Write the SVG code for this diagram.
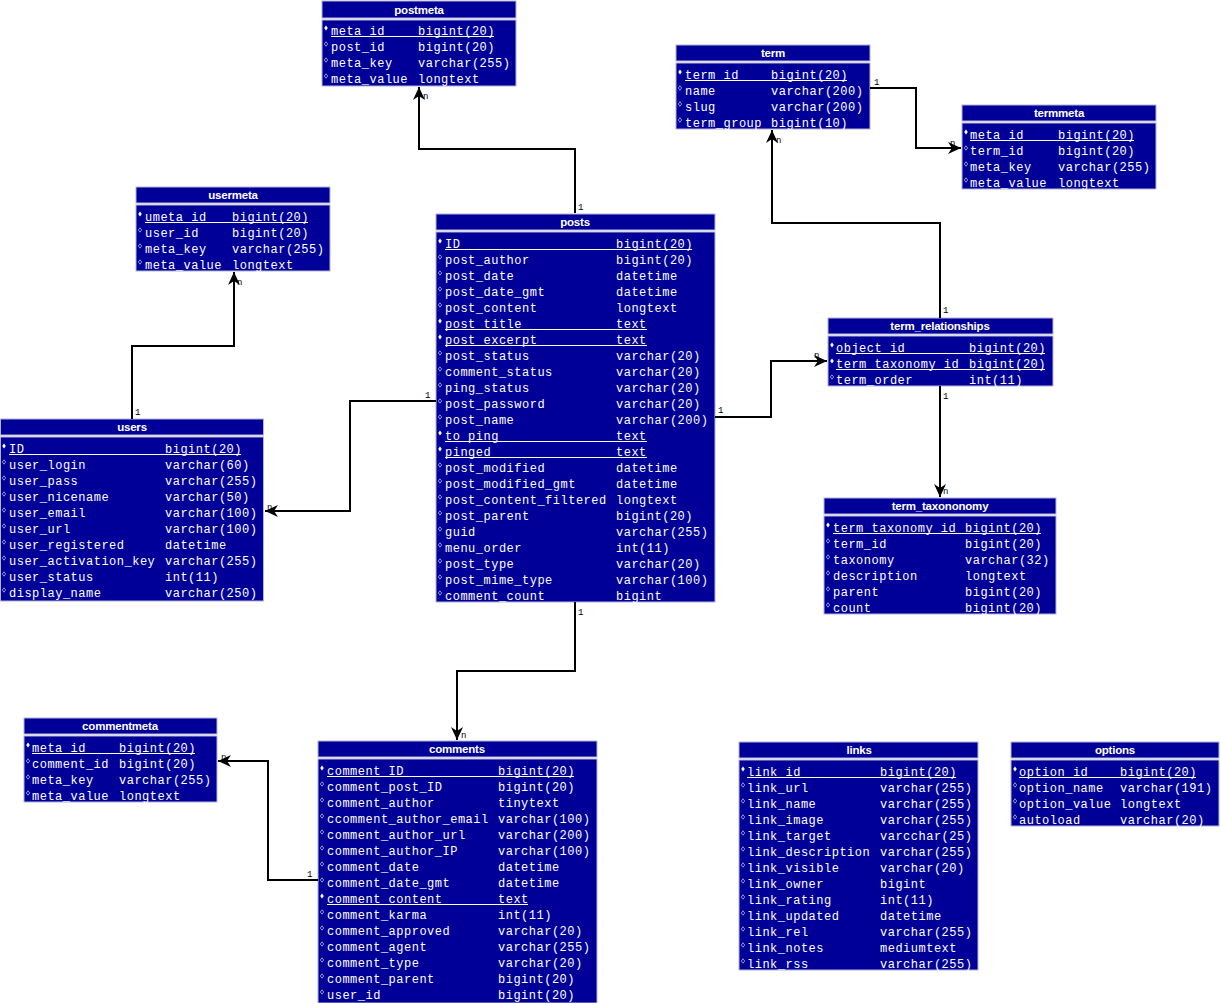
<svg xmlns="http://www.w3.org/2000/svg" xmlns:xlink="http://www.w3.org/1999/xlink" width="1221" height="1003" viewBox="0 0 1221 1003">
<style>
  .box { fill: #000099; stroke: #b4b4d8; stroke-width: 1; }
  .title { font-family: "Liberation Sans", Arial, sans-serif; font-weight: bold; font-size: 11.5px; fill: #ffffff; text-anchor: middle; letter-spacing: -0.2px; }
  .f { font-family: "Liberation Mono", "Courier New", monospace; font-size: 12px; letter-spacing: 0.5px; fill: #ffffff; }
  .ul { stroke: #ffffff; stroke-width: 1; }
  .wire { fill: none; stroke: #000000; stroke-width: 2; marker-end: url(#arr); }
  .card { font-family: "Liberation Mono", "Courier New", monospace; font-size: 9px; fill: #000000; }
</style>
<defs>
  <marker id="arr" markerUnits="userSpaceOnUse" markerWidth="14" markerHeight="12" refX="13" refY="6" orient="auto">
    <path d="M0,0 L13,6 L0,12 L4,6 z" fill="#000000"/>
  </marker>
  <path id="pk" d="M0,-2.5 L1.8,0 L0,2.5 L-1.8,0 z" fill="#ffffff"/>
  <path id="fk" d="M0,-2.2 L1.7,0 L0,2.2 L-1.7,0 z" fill="none" stroke="#d0d0e8" stroke-width="0.7"/>
</defs>
<rect x="0" y="0" width="1221" height="1003" fill="#ffffff"/>

<!-- postmeta -->
<g id="postmeta">
  <rect class="box" x="322" y="1" width="194" height="17"/>
  <rect class="box" x="322" y="20" width="194" height="66"/>
  <text class="title" x="419" y="14">postmeta</text>
  <use href="#pk" x="326" y="28"/><text class="f" x="331" y="35">meta_id</text><text class="f" x="418" y="35">bigint(20)</text><line class="ul" x1="331" y1="36.5" x2="494" y2="36.5"/>
  <use href="#fk" x="326" y="44"/><text class="f" x="331" y="51">post_id</text><text class="f" x="418" y="51">bigint(20)</text>
  <use href="#fk" x="326" y="60"/><text class="f" x="331" y="67">meta_key</text><text class="f" x="418" y="67">varchar(255)</text>
  <use href="#fk" x="326" y="76"/><text class="f" x="331" y="83">meta_value</text><text class="f" x="418" y="83">longtext</text>
</g>

<!-- term -->
<g id="term">
  <rect class="box" x="676" y="45" width="194" height="16"/>
  <rect class="box" x="676" y="63" width="194" height="66"/>
  <text class="title" x="773" y="57">term</text>
  <use href="#pk" x="680" y="72"/><text class="f" x="685" y="79">term_id</text><text class="f" x="771" y="79">bigint(20)</text><line class="ul" x1="685" y1="80.5" x2="847" y2="80.5"/>
  <use href="#fk" x="680" y="88"/><text class="f" x="685" y="95">name</text><text class="f" x="771" y="95">varchar(200)</text>
  <use href="#fk" x="680" y="104"/><text class="f" x="685" y="111">slug</text><text class="f" x="771" y="111">varchar(200)</text>
  <use href="#fk" x="680" y="120"/><text class="f" x="685" y="127">term_group</text><text class="f" x="771" y="127">bigint(10)</text>
</g>

<!-- termmeta -->
<g id="termmeta">
  <rect class="box" x="962" y="105" width="194" height="16"/>
  <rect class="box" x="962" y="123" width="194" height="66"/>
  <text class="title" x="1059" y="117">termmeta</text>
  <use href="#pk" x="966" y="132"/><text class="f" x="970" y="139">meta_id</text><text class="f" x="1058" y="139">bigint(20)</text><line class="ul" x1="970" y1="140.5" x2="1134" y2="140.5"/>
  <use href="#fk" x="966" y="148"/><text class="f" x="970" y="155">term_id</text><text class="f" x="1058" y="155">bigint(20)</text>
  <use href="#fk" x="966" y="164"/><text class="f" x="970" y="171">meta_key</text><text class="f" x="1058" y="171">varchar(255)</text>
  <use href="#fk" x="966" y="180"/><text class="f" x="970" y="187">meta_value</text><text class="f" x="1058" y="187">longtext</text>
</g>

<!-- usermeta -->
<g id="usermeta">
  <rect class="box" x="136" y="187" width="194" height="16"/>
  <rect class="box" x="136" y="205" width="194" height="66"/>
  <text class="title" x="233" y="199">usermeta</text>
  <use href="#pk" x="140" y="214"/><text class="f" x="145" y="221">umeta_id</text><text class="f" x="232" y="221">bigint(20)</text><line class="ul" x1="145" y1="222.5" x2="308" y2="222.5"/>
  <use href="#fk" x="140" y="230"/><text class="f" x="145" y="237">user_id</text><text class="f" x="232" y="237">bigint(20)</text>
  <use href="#fk" x="140" y="246"/><text class="f" x="145" y="253">meta_key</text><text class="f" x="232" y="253">varchar(255)</text>
  <use href="#fk" x="140" y="262"/><text class="f" x="145" y="269">meta_value</text><text class="f" x="232" y="269">longtext</text>
</g>

<!-- posts -->
<g id="posts">
  <rect class="box" x="436" y="214" width="279" height="16"/>
  <rect class="box" x="436" y="232" width="279" height="370"/>
  <text class="title" x="575" y="226">posts</text>
  <use href="#pk" x="440" y="241"/><text class="f" x="445" y="248">ID</text><text class="f" x="616" y="248">bigint(20)</text><line class="ul" x1="445" y1="249.5" x2="692" y2="249.5"/>
  <use href="#fk" x="440" y="257"/><text class="f" x="445" y="264">post_author</text><text class="f" x="616" y="264">bigint(20)</text>
  <use href="#fk" x="440" y="273"/><text class="f" x="445" y="280">post_date</text><text class="f" x="616" y="280">datetime</text>
  <use href="#fk" x="440" y="289"/><text class="f" x="445" y="296">post_date_gmt</text><text class="f" x="616" y="296">datetime</text>
  <use href="#fk" x="440" y="305"/><text class="f" x="445" y="312">post_content</text><text class="f" x="616" y="312">longtext</text>
  <use href="#pk" x="440" y="321"/><text class="f" x="445" y="328">post_title</text><text class="f" x="616" y="328">text</text><line class="ul" x1="445" y1="329.5" x2="647" y2="329.5"/>
  <use href="#pk" x="440" y="337"/><text class="f" x="445" y="344">post_excerpt</text><text class="f" x="616" y="344">text</text><line class="ul" x1="445" y1="345.5" x2="647" y2="345.5"/>
  <use href="#fk" x="440" y="353"/><text class="f" x="445" y="360">post_status</text><text class="f" x="616" y="360">varchar(20)</text>
  <use href="#fk" x="440" y="369"/><text class="f" x="445" y="376">comment_status</text><text class="f" x="616" y="376">varchar(20)</text>
  <use href="#fk" x="440" y="385"/><text class="f" x="445" y="392">ping_status</text><text class="f" x="616" y="392">varchar(20)</text>
  <use href="#fk" x="440" y="401"/><text class="f" x="445" y="408">post_password</text><text class="f" x="616" y="408">varchar(20)</text>
  <use href="#fk" x="440" y="417"/><text class="f" x="445" y="424">post_name</text><text class="f" x="616" y="424">varchar(200)</text>
  <use href="#pk" x="440" y="433"/><text class="f" x="445" y="440">to_ping</text><text class="f" x="616" y="440">text</text><line class="ul" x1="445" y1="441.5" x2="647" y2="441.5"/>
  <use href="#pk" x="440" y="449"/><text class="f" x="445" y="456">pinged</text><text class="f" x="616" y="456">text</text><line class="ul" x1="445" y1="457.5" x2="647" y2="457.5"/>
  <use href="#fk" x="440" y="465"/><text class="f" x="445" y="472">post_modified</text><text class="f" x="616" y="472">datetime</text>
  <use href="#fk" x="440" y="481"/><text class="f" x="445" y="488">post_modified_gmt</text><text class="f" x="616" y="488">datetime</text>
  <use href="#fk" x="440" y="497"/><text class="f" x="445" y="504">post_content_filtered</text><text class="f" x="616" y="504">longtext</text>
  <use href="#fk" x="440" y="513"/><text class="f" x="445" y="520">post_parent</text><text class="f" x="616" y="520">bigint(20)</text>
  <use href="#fk" x="440" y="529"/><text class="f" x="445" y="536">guid</text><text class="f" x="616" y="536">varchar(255)</text>
  <use href="#fk" x="440" y="545"/><text class="f" x="445" y="552">menu_order</text><text class="f" x="616" y="552">int(11)</text>
  <use href="#fk" x="440" y="561"/><text class="f" x="445" y="568">post_type</text><text class="f" x="616" y="568">varchar(20)</text>
  <use href="#fk" x="440" y="577"/><text class="f" x="445" y="584">post_mime_type</text><text class="f" x="616" y="584">varchar(100)</text>
  <use href="#fk" x="440" y="593"/><text class="f" x="445" y="600">comment_count</text><text class="f" x="616" y="600">bigint</text>
</g>

<!-- term_relationships -->
<g id="term_relationships">
  <rect class="box" x="828" y="318" width="225" height="16"/>
  <rect class="box" x="828" y="336" width="225" height="50"/>
  <text class="title" x="940" y="330">term_relationships</text>
  <use href="#pk" x="832" y="345"/><text class="f" x="836" y="352">object_id</text><text class="f" x="969" y="352">bigint(20)</text><line class="ul" x1="836" y1="353.5" x2="1045" y2="353.5"/>
  <use href="#pk" x="832" y="361"/><text class="f" x="836" y="368">term_taxonomy_id</text><text class="f" x="969" y="368">bigint(20)</text><line class="ul" x1="836" y1="369.5" x2="1045" y2="369.5"/>
  <use href="#fk" x="832" y="377"/><text class="f" x="836" y="384">term_order</text><text class="f" x="969" y="384">int(11)</text>
</g>

<!-- users -->
<g id="users">
  <rect class="box" x="0.5" y="419" width="263" height="16"/>
  <rect class="box" x="0.5" y="437" width="263" height="164"/>
  <text class="title" x="132" y="431">users</text>
  <use href="#pk" x="4" y="446"/><text class="f" x="9" y="453">ID</text><text class="f" x="165" y="453">bigint(20)</text><line class="ul" x1="9" y1="454.5" x2="241" y2="454.5"/>
  <use href="#fk" x="4" y="462"/><text class="f" x="9" y="469">user_login</text><text class="f" x="165" y="469">varchar(60)</text>
  <use href="#fk" x="4" y="478"/><text class="f" x="9" y="485">user_pass</text><text class="f" x="165" y="485">varchar(255)</text>
  <use href="#fk" x="4" y="494"/><text class="f" x="9" y="501">user_nicename</text><text class="f" x="165" y="501">varchar(50)</text>
  <use href="#fk" x="4" y="510"/><text class="f" x="9" y="517">user_email</text><text class="f" x="165" y="517">varchar(100)</text>
  <use href="#fk" x="4" y="526"/><text class="f" x="9" y="533">user_url</text><text class="f" x="165" y="533">varchar(100)</text>
  <use href="#fk" x="4" y="542"/><text class="f" x="9" y="549">user_registered</text><text class="f" x="165" y="549">datetime</text>
  <use href="#fk" x="4" y="558"/><text class="f" x="9" y="565">user_activation_key</text><text class="f" x="165" y="565">varchar(255)</text>
  <use href="#fk" x="4" y="574"/><text class="f" x="9" y="581">user_status</text><text class="f" x="165" y="581">int(11)</text>
  <use href="#fk" x="4" y="590"/><text class="f" x="9" y="597">display_name</text><text class="f" x="165" y="597">varchar(250)</text>
</g>

<!-- term_taxononomy -->
<g id="term_taxononomy">
  <rect class="box" x="824" y="498" width="232" height="16"/>
  <rect class="box" x="824" y="516" width="232" height="98"/>
  <text class="title" x="940" y="510">term_taxononomy</text>
  <use href="#pk" x="828" y="525"/><text class="f" x="833" y="532">term_taxonomy_id</text><text class="f" x="965" y="532">bigint(20)</text><line class="ul" x1="833" y1="533.5" x2="1041" y2="533.5"/>
  <use href="#fk" x="828" y="541"/><text class="f" x="833" y="548">term_id</text><text class="f" x="965" y="548">bigint(20)</text>
  <use href="#fk" x="828" y="557"/><text class="f" x="833" y="564">taxonomy</text><text class="f" x="965" y="564">varchar(32)</text>
  <use href="#fk" x="828" y="573"/><text class="f" x="833" y="580">description</text><text class="f" x="965" y="580">longtext</text>
  <use href="#fk" x="828" y="589"/><text class="f" x="833" y="596">parent</text><text class="f" x="965" y="596">bigint(20)</text>
  <use href="#fk" x="828" y="605"/><text class="f" x="833" y="612">count</text><text class="f" x="965" y="612">bigint(20)</text>
</g>

<!-- commentmeta -->
<g id="commentmeta">
  <rect class="box" x="24" y="718" width="193" height="16"/>
  <rect class="box" x="24" y="736" width="193" height="66"/>
  <text class="title" x="120" y="730">commentmeta</text>
  <use href="#pk" x="28" y="745"/><text class="f" x="32" y="752">meta_id</text><text class="f" x="119" y="752">bigint(20)</text><line class="ul" x1="32" y1="753.5" x2="195" y2="753.5"/>
  <use href="#fk" x="28" y="761"/><text class="f" x="32" y="768">comment_id</text><text class="f" x="119" y="768">bigint(20)</text>
  <use href="#fk" x="28" y="777"/><text class="f" x="32" y="784">meta_key</text><text class="f" x="119" y="784">varchar(255)</text>
  <use href="#fk" x="28" y="793"/><text class="f" x="32" y="800">meta_value</text><text class="f" x="119" y="800">longtext</text>
</g>

<!-- comments -->
<g id="comments">
  <rect class="box" x="318" y="741" width="279" height="16"/>
  <rect class="box" x="318" y="759" width="279" height="244"/>
  <text class="title" x="457" y="753">comments</text>
  <use href="#pk" x="322" y="768"/><text class="f" x="327" y="775">comment_ID</text><text class="f" x="498" y="775">bigint(20)</text><line class="ul" x1="327" y1="776.5" x2="574" y2="776.5"/>
  <use href="#fk" x="322" y="784"/><text class="f" x="327" y="791">comment_post_ID</text><text class="f" x="498" y="791">bigint(20)</text>
  <use href="#fk" x="322" y="800"/><text class="f" x="327" y="807">comment_author</text><text class="f" x="498" y="807">tinytext</text>
  <use href="#fk" x="322" y="816"/><text class="f" x="327" y="823">ccomment_author_email</text><text class="f" x="498" y="823">varchar(100)</text>
  <use href="#fk" x="322" y="832"/><text class="f" x="327" y="839">comment_author_url</text><text class="f" x="498" y="839">varchar(200)</text>
  <use href="#fk" x="322" y="848"/><text class="f" x="327" y="855">comment_author_IP</text><text class="f" x="498" y="855">varchar(100)</text>
  <use href="#fk" x="322" y="864"/><text class="f" x="327" y="871">comment_date</text><text class="f" x="498" y="871">datetime</text>
  <use href="#fk" x="322" y="880"/><text class="f" x="327" y="887">comment_date_gmt</text><text class="f" x="498" y="887">datetime</text>
  <use href="#pk" x="322" y="896"/><text class="f" x="327" y="903">comment_content</text><text class="f" x="498" y="903">text</text><line class="ul" x1="327" y1="904.5" x2="528" y2="904.5"/>
  <use href="#fk" x="322" y="912"/><text class="f" x="327" y="919">comment_karma</text><text class="f" x="498" y="919">int(11)</text>
  <use href="#fk" x="322" y="928"/><text class="f" x="327" y="935">comment_approved</text><text class="f" x="498" y="935">varchar(20)</text>
  <use href="#fk" x="322" y="944"/><text class="f" x="327" y="951">comment_agent</text><text class="f" x="498" y="951">varchar(255)</text>
  <use href="#fk" x="322" y="960"/><text class="f" x="327" y="967">comment_type</text><text class="f" x="498" y="967">varchar(20)</text>
  <use href="#fk" x="322" y="976"/><text class="f" x="327" y="983">comment_parent</text><text class="f" x="498" y="983">bigint(20)</text>
  <use href="#fk" x="322" y="992"/><text class="f" x="327" y="999">user_id</text><text class="f" x="498" y="999">bigint(20)</text>
</g>

<!-- links -->
<g id="links">
  <rect class="box" x="739" y="742" width="239" height="16"/>
  <rect class="box" x="739" y="760" width="239" height="210"/>
  <text class="title" x="859" y="754">links</text>
  <use href="#pk" x="743" y="769"/><text class="f" x="747" y="776">link_id</text><text class="f" x="880" y="776">bigint(20)</text><line class="ul" x1="747" y1="777.5" x2="956" y2="777.5"/>
  <use href="#fk" x="743" y="785"/><text class="f" x="747" y="792">link_url</text><text class="f" x="880" y="792">varchar(255)</text>
  <use href="#fk" x="743" y="801"/><text class="f" x="747" y="808">link_name</text><text class="f" x="880" y="808">varchar(255)</text>
  <use href="#fk" x="743" y="817"/><text class="f" x="747" y="824">link_image</text><text class="f" x="880" y="824">varchar(255)</text>
  <use href="#fk" x="743" y="833"/><text class="f" x="747" y="840">link_target</text><text class="f" x="880" y="840">varcchar(25)</text>
  <use href="#fk" x="743" y="849"/><text class="f" x="747" y="856">link_description</text><text class="f" x="880" y="856">varchar(255)</text>
  <use href="#fk" x="743" y="865"/><text class="f" x="747" y="872">link_visible</text><text class="f" x="880" y="872">varchar(20)</text>
  <use href="#fk" x="743" y="881"/><text class="f" x="747" y="888">link_owner</text><text class="f" x="880" y="888">bigint</text>
  <use href="#fk" x="743" y="897"/><text class="f" x="747" y="904">link_rating</text><text class="f" x="880" y="904">int(11)</text>
  <use href="#fk" x="743" y="913"/><text class="f" x="747" y="920">link_updated</text><text class="f" x="880" y="920">datetime</text>
  <use href="#fk" x="743" y="929"/><text class="f" x="747" y="936">link_rel</text><text class="f" x="880" y="936">varchar(255)</text>
  <use href="#fk" x="743" y="945"/><text class="f" x="747" y="952">link_notes</text><text class="f" x="880" y="952">mediumtext</text>
  <use href="#fk" x="743" y="961"/><text class="f" x="747" y="968">link_rss</text><text class="f" x="880" y="968">varchar(255)</text>
</g>

<!-- options -->
<g id="options">
  <rect class="box" x="1011" y="742" width="208" height="16"/>
  <rect class="box" x="1011" y="760" width="208" height="66"/>
  <text class="title" x="1115" y="754">options</text>
  <use href="#pk" x="1015" y="769"/><text class="f" x="1019" y="776">option_id</text><text class="f" x="1120" y="776">bigint(20)</text><line class="ul" x1="1019" y1="777.5" x2="1196" y2="777.5"/>
  <use href="#fk" x="1015" y="785"/><text class="f" x="1019" y="792">option_name</text><text class="f" x="1120" y="792">varchar(191)</text>
  <use href="#fk" x="1015" y="801"/><text class="f" x="1019" y="808">option_value</text><text class="f" x="1120" y="808">longtext</text>
  <use href="#fk" x="1015" y="817"/><text class="f" x="1019" y="824">autoload</text><text class="f" x="1120" y="824">varchar(20)</text>
</g>

<!-- relationships -->
<g id="connectors">
  <path class="wire" d="M575,213 V149 H419 V87"/>
  <path class="wire" d="M436,401 H350 V511 H265"/>
  <path class="wire" d="M132,419 V346 H234 V272"/>
  <path class="wire" d="M715,417 H771 V361 H827"/>
  <path class="wire" d="M940,318 V223 H772 V130"/>
  <path class="wire" d="M870,88 H916 V148 H961"/>
  <path class="wire" d="M940,386 V497"/>
  <path class="wire" d="M575,602 V671 H457 V740"/>
  <path class="wire" d="M318,880 H268 V761 H218"/>
  <text class="card" x="578" y="210">1</text>
  <text class="card" x="423" y="99">n</text>
  <text class="card" x="425" y="398">1</text>
  <text class="card" x="267" y="510">n</text>
  <text class="card" x="135" y="415">1</text>
  <text class="card" x="237" y="285">n</text>
  <text class="card" x="718" y="413">1</text>
  <text class="card" x="814" y="358">n</text>
  <text class="card" x="943" y="313">1</text>
  <text class="card" x="776" y="143">n</text>
  <text class="card" x="874" y="85">1</text>
  <text class="card" x="950" y="146">n</text>
  <text class="card" x="943" y="399">1</text>
  <text class="card" x="943" y="494">n</text>
  <text class="card" x="578" y="615">1</text>
  <text class="card" x="461" y="738">n</text>
  <text class="card" x="307" y="877">1</text>
  <text class="card" x="221" y="760">n</text>
</g>
</svg>
